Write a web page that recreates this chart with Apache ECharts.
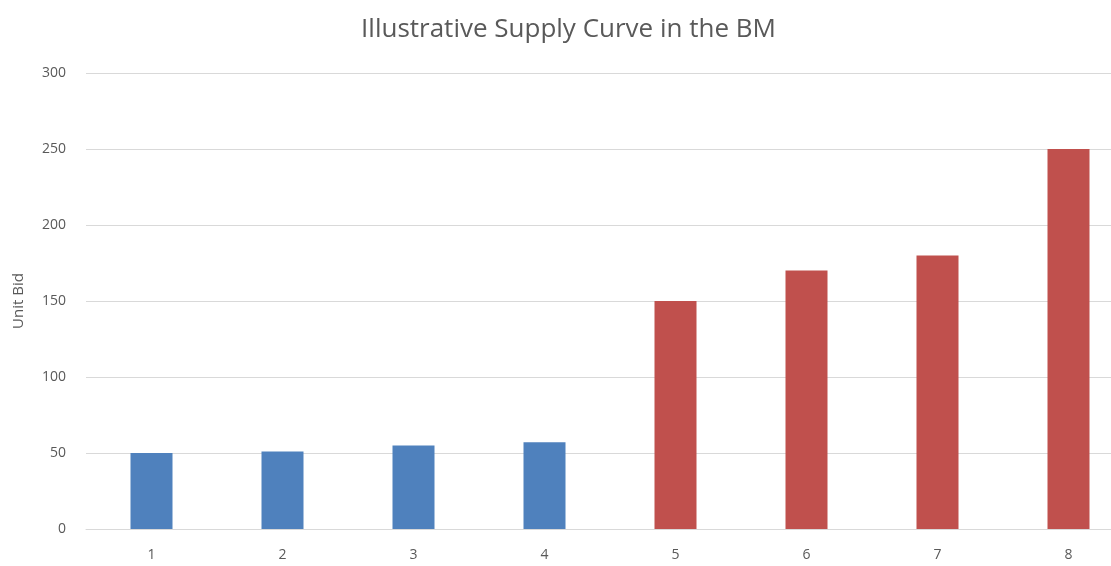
<!DOCTYPE html>
<html>
<head>
<meta charset="utf-8">
<script src="https://cdn.jsdelivr.net/npm/echarts@6/dist/echarts.min.js"></script>
<style>html,body{margin:0;padding:0;background:#fff;overflow:hidden;width:1111px;height:566px;}#c{width:1137px;height:566px;}</style>
</head>
<body>
<div id="c"></div>
<script>
const categories = ['1', '2', '3', '4', '5', '6', '7', '8'];
const blueValues = [50, 51, 55, 57, '-', '-', '-', '-'];
const redValues = ['-', '-', '-', '-', 150, 170, 180, 250];
const yTicks = { min: 0, max: 300, interval: 50 };
const titleText = 'Illustrative Supply Curve in the BM';
const yName = 'Unit Bid';

const chart = echarts.init(document.getElementById('c'));
const font = '"Open Sans", "Liberation Sans", sans-serif';
chart.setOption({
  animation: false,
  backgroundColor: '#ffffff',
  title: {
    text: titleText,
    left: 'center',
    top: 12,
    textStyle: { fontFamily: font, fontSize: 26, fontWeight: 'normal', color: '#595959' }
  },
  grid: { left: 86, right: 3, top: 73, bottom: 37, containLabel: false },
  xAxis: {
    type: 'category',
    data: categories,
    axisLine: { show: true, lineStyle: { color: '#d9d9d9', width: 1 } },
    axisTick: { show: false },
    axisLabel: { color: '#595959', fontFamily: font, fontSize: 14, margin: 19 }
  },
  yAxis: {
    type: 'value',
    min: yTicks.min, max: yTicks.max, interval: yTicks.interval,
    name: yName,
    nameLocation: 'middle',
    nameGap: 60,
    nameTextStyle: { color: '#595959', fontFamily: font, fontSize: 15 },
    axisLine: { show: false },
    axisTick: { show: false },
    axisLabel: { color: '#595959', fontFamily: font, fontSize: 14, margin: 20 },
    splitLine: { lineStyle: { color: '#d9d9d9', width: 1 } }
  },
  series: [
    { type: 'bar', stack: 'a', data: blueValues, barWidth: 42,
      itemStyle: { color: '#4F81BD' } },
    { type: 'bar', stack: 'a', data: redValues, barWidth: 42,
      itemStyle: { color: '#C0504D' } }
  ]
});
</script>
</body>
</html>
